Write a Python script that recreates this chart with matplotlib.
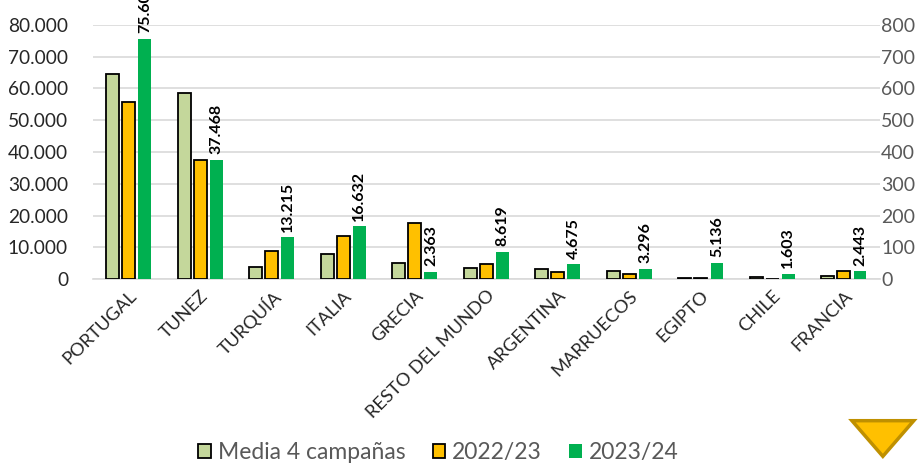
import matplotlib
matplotlib.use("Agg")
import matplotlib.pyplot as plt
import numpy as np
from matplotlib.patches import Polygon

plt.rcParams['font.family'] = ['Lato', 'DejaVu Sans']

categories = ["PORTUGAL", "TUNEZ", "TURQUÍA", "ITALIA", "GRECIA", "RESTO DEL MUNDO",
              "ARGENTINA", "MARRUECOS", "EGIPTO", "CHILE", "FRANCIA"]
media4 = [64600, 58700, 3900, 7900, 5100, 3600, 3200, 2500, 300, 500, 1000]
c2022 = [55700, 37400, 8900, 13500, 17500, 4600, 2100, 1700, 300, 0, 2600]
c2023 = [75600, 37468, 13215, 16632, 2363, 8619, 4675, 3296, 5136, 1603, 2443]
series_names = ["Media 4 campañas", "2022/23", "2023/24"]
left_ticks = [0, 10000, 20000, 30000, 40000, 50000, 60000, 70000, 80000]
right_ticks = [0, 100, 200, 300, 400, 500, 600, 700, 800]

def fmt(v):
    return f"{v:,.0f}".replace(",", ".")

fig = plt.figure(figsize=(9.23, 4.69), dpi=100)
ax = fig.add_axes([0.1008, 0.405, 0.8522, 0.542])

x = np.arange(len(categories))
w = 0.18
step = 0.225
ax.bar(x - step, media4, w, color="#C4D79B", edgecolor="black", linewidth=1.3, label=series_names[0], zorder=3)
ax.bar(x, c2022, w, color="#FFC000", edgecolor="black", linewidth=1.3, label=series_names[1], zorder=3)
ax.bar(x + step, c2023, w, color="#00B050", edgecolor="none", label=series_names[2], zorder=3)

for xi, v in zip(x, c2023):
    ax.annotate(fmt(v), (xi + step, v), xytext=(0, 4), textcoords="offset points",
                rotation=90, ha="center", va="bottom", fontsize=11.5, fontweight="bold",
                color="black", annotation_clip=False, zorder=4)

ax.set_xlim(-0.5, len(categories) - 0.5)
ax.set_ylim(0, 80000)
ax.set_yticks(left_ticks)
ax.set_yticklabels([fmt(t) for t in left_ticks], fontsize=13.8, color="#262626")
ax.set_xticks(x)
ax.set_xticklabels(categories, rotation=45, ha="right", rotation_mode="anchor",
                   fontsize=13.2, color="#262626")
ax.tick_params(axis="both", length=0)
ax.tick_params(axis="y", pad=18)
ax.tick_params(axis="x", pad=6)
ax.grid(axis="y", color="#D9D9D9", linewidth=1.2, zorder=0)
for s in ["top", "right", "left"]:
    ax.spines[s].set_visible(False)
ax.spines["bottom"].set_color("#D9D9D9")
ax.spines["bottom"].set_linewidth(1.2)

ax2 = ax.twinx()
ax2.set_ylim(0, 800)
ax2.set_yticks(right_ticks)
ax2.set_yticklabels([str(t) for t in right_ticks], fontsize=14, color="#595959")
ax2.tick_params(axis="y", length=0, pad=1)
for s in ax2.spines.values():
    s.set_visible(False)

leg = fig.legend(loc="center", bbox_to_anchor=(0.475, 0.035), ncol=3, frameon=False,
                 fontsize=16.5, handlelength=0.55, handleheight=0.6, handletextpad=0.3,
                 columnspacing=1.2)
for t in leg.get_texts():
    t.set_color("#595959")

tri = Polygon([[0.923, 0.103], [0.99, 0.103], [0.9565, 0.027]], closed=True,
              transform=fig.transFigure, facecolor="#FFC000", edgecolor="#BF9000",
              linewidth=2.5)
fig.patches.append(tri)

fig.savefig("out.png", dpi=100)
